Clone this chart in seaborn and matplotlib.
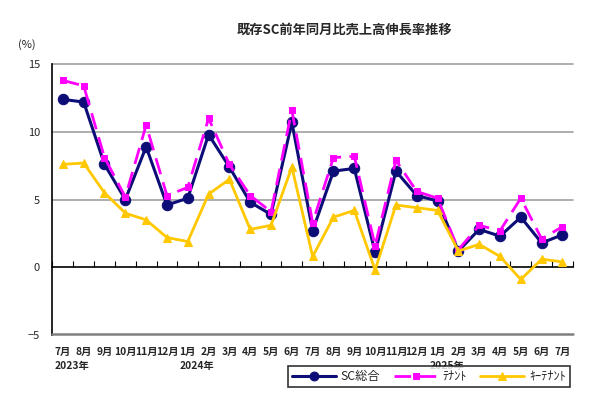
import numpy as np
import pandas as pd
import matplotlib
matplotlib.use('Agg')
import matplotlib.pyplot as plt
import matplotlib.transforms as mtransforms
import seaborn as sns

sns.set_style('white')
plt.rcParams['font.family'] = ['Noto Sans CJK JP', 'DejaVu Sans']

### data (Jul 2023 .. Jul 2025)
months = ['7月', '8月', '9月', '10月', '11月', '12月',
          '1月', '2月', '3月', '4月', '5月', '6月', '7月', '8月', '9月', '10月', '11月', '12月',
          '1月', '2月', '3月', '4月', '5月', '6月', '7月']
year_labels = {0: '2023年', 6: '2024年', 18: '2025年'}
sc_total = [12.4, 12.2, 7.6, 5.0, 8.9, 4.6, 5.1, 9.8, 7.4, 4.8, 3.9, 10.7, 2.7,
            7.1, 7.3, 1.1, 7.1, 5.3, 4.9, 1.2, 2.8, 2.3, 3.7, 1.8, 2.4]
tenant = [13.8, 13.4, 8.1, 5.2, 10.5, 5.3, 5.9, 11.0, 7.6, 5.3, 4.1, 11.6, 3.3,
          8.1, 8.2, 1.6, 7.9, 5.6, 5.1, 1.3, 3.1, 2.7, 5.1, 2.1, 3.0]
key_tenant = [7.6, 7.7, 5.5, 4.0, 3.5, 2.2, 1.9, 5.4, 6.5, 2.8, 3.1, 7.4, 0.8,
              3.7, 4.2, -0.2, 4.6, 4.4, 4.2, 1.2, 1.7, 0.8, -0.9, 0.6, 0.4]

x = np.arange(len(months))
df = pd.DataFrame({'x': x, 'sc': sc_total, 'tenant': tenant, 'key': key_tenant})

fig = plt.figure(figsize=(6.03, 3.96), dpi=100)
ax = fig.add_axes([0.087, 0.154, 0.863, 0.684])

# gray grid lines; the -5 one sits a hair inside the frame
for yv in [5, 10, 15]:
    ax.axhline(yv, color='#a0a0a0', lw=1.2, zorder=1, clip_on=False)
ax.axhline(-4.93, color='#808080', lw=1.8, zorder=6, clip_on=False)

sns.lineplot(data=df, x='x', y='sc', ax=ax, color='#0d0d78', lw=2.2,
             marker='o', markersize=7.5, markeredgecolor='#0d0d78', label='SC総合', zorder=3)
sns.lineplot(data=df, x='x', y='tenant', ax=ax, color='#ff00ff', lw=2.0,
             marker='s', markersize=5, markeredgecolor='#ff00ff', label='ﾃﾅﾝﾄ', zorder=4)
ax.lines[-1].set_dashes([6, 3])
sns.lineplot(data=df, x='x', y='key', ax=ax, color='#ffc800', lw=2.0,
             marker='^', markersize=6, markeredgecolor='#ffc800', label='ｷｰﾃﾅﾝﾄ', zorder=5)

ax.set_xlim(-0.5, len(months) - 0.5)
ax.set_ylim(-5, 15)
ax.set_yticks([-5, 0, 5, 10, 15])
ax.set_yticklabels(['−5', '0', '5', '10', '15'], fontsize=8)
ax.set_xlabel('')
ax.set_ylabel('')

ax.spines['right'].set_visible(False)
ax.spines['bottom'].set_visible(False)
# the zero line carries the category ticks (pointing up)
ax.spines['top'].set_visible(True)
ax.spines['top'].set_position(('data', 0))
ax.spines['top'].set_color('black')
ax.spines['top'].set_linewidth(1.2)
ax.spines['top'].set_zorder(2)
ax.spines['left'].set_color('black')
ax.spines['left'].set_linewidth(1.2)

ax.xaxis.tick_top()
ax.set_xticks(np.arange(-0.5, len(months), 1.0))
ax.set_xticklabels([])
ax.tick_params(axis='x', which='both', top=True, bottom=False, direction='out',
               length=4, width=0.8, color='black')
ax.tick_params(axis='y', direction='out', length=3, width=0.8, color='black', pad=6)

trans = mtransforms.blended_transform_factory(ax.transData, ax.transAxes)
for i, m in enumerate(months):
    ax.text(i, -0.045, m, transform=trans, ha='center', va='top', fontsize=7.4, fontweight='bold')
for i, yl in year_labels.items():
    ax.text(i - 0.4, -0.095, yl, transform=trans, ha='left', va='top', fontsize=7.4, fontweight='bold')

fig.text(0.572, 0.924, '既存SC前年同月比売上高伸長率推移', ha='center', va='center',
         fontsize=9.5, fontweight='bold')
fig.text(0.030, 0.888, '(%)', ha='left', va='center', fontsize=8)

ax.get_legend().remove()
h, l = ax.get_legend_handles_labels()
leg = fig.legend(h, l, loc='lower right', bbox_to_anchor=(0.955, 0.008), ncol=3,
                 frameon=True, fancybox=False, edgecolor='black', fontsize=8.8,
                 handlelength=3.6, columnspacing=1.1, handletextpad=0.4,
                 borderpad=0.3, markerscale=0.85)
leg.get_frame().set_linewidth(1.2)

fig.savefig('out.png', dpi=100)
